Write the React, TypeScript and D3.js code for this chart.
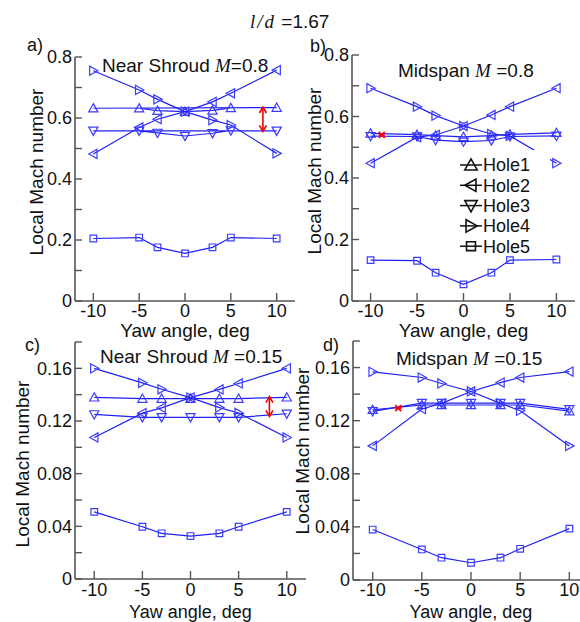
import React from "react";
import * as d3 from "d3";

// ---------- DATA ----------
const yawAngles = [-10, -5, -3, 0, 3, 5, 10];
const holeNames = ["Hole1", "Hole2", "Hole3", "Hole4", "Hole5"];
const xTickValues = [-10, -5, 0, 5, 10];
const topYTicks = [0, 0.1, 0.2, 0.3, 0.4, 0.5, 0.6, 0.7, 0.8];
const topYLabels = ["0", "", "0.2", "", "0.4", "", "0.6", "", "0.8"];
const bottomYTicks = [0, 0.02, 0.04, 0.06, 0.08, 0.1, 0.12, 0.14, 0.16, 0.18];
const bottomYLabels = ["0", "", "0.04", "", "0.08", "", "0.12", "", "0.16", ""];

// a) Near Shroud M=0.8
const aHole1 = [0.632, 0.632, 0.624, 0.621, 0.625, 0.633, 0.634];
const aHole2 = [0.482, 0.569, 0.596, 0.621, 0.653, 0.681, 0.757];
const aHole3 = [0.558, 0.558, 0.551, 0.541, 0.550, 0.559, 0.558];
const aHole4 = [0.755, 0.692, 0.661, 0.621, 0.593, 0.577, 0.484];
const aHole5 = [0.205, 0.208, 0.176, 0.156, 0.176, 0.208, 0.205];
// b) Midspan M=0.8
const bHole1 = [0.545, 0.541, 0.538, 0.534, 0.538, 0.542, 0.547];
const bHole2 = [0.448, 0.533, 0.540, 0.569, 0.605, 0.632, 0.692];
const bHole3 = [0.536, 0.535, 0.523, 0.518, 0.522, 0.535, 0.537];
const bHole4 = [0.692, 0.632, 0.603, 0.569, 0.543, 0.537, 0.448];
const bHole5 = [0.133, 0.131, 0.092, 0.054, 0.092, 0.133, 0.135];
// c) Near Shroud M=0.15
const cHole1 = [0.138, 0.137, 0.137, 0.137, 0.137, 0.137, 0.138];
const cHole2 = [0.1075, 0.126, 0.130, 0.1378, 0.144, 0.1485, 0.160];
const cHole3 = [0.125, 0.1228, 0.1228, 0.1228, 0.1228, 0.1228, 0.1255];
const cHole4 = [0.160, 0.149, 0.1441, 0.1378, 0.1302, 0.1261, 0.1075];
const cHole5 = [0.051, 0.0397, 0.0347, 0.0326, 0.0347, 0.0397, 0.051];
// d) Midspan M=0.15
const dHole1 = [0.1282, 0.1318, 0.1318, 0.1318, 0.1318, 0.1318, 0.1272];
const dHole2 = [0.101, 0.1288, 0.133, 0.142, 0.1487, 0.1525, 0.157];
const dHole3 = [0.1270, 0.1332, 0.1332, 0.1332, 0.1332, 0.1332, 0.1285];
const dHole4 = [0.1568, 0.1525, 0.148, 0.142, 0.133, 0.1275, 0.101];
const dHole5 = [0.038, 0.023, 0.0168, 0.013, 0.0168, 0.0235, 0.0387];

// drawing order of points along a line (index into yawAngles)
const naturalOrder = [0, 1, 2, 3, 4, 5, 6];
const wrapOrder = [6, 0, 1, 2, 3, 4, 5];

// red highlighted points / arrows
const bRedPoint = [-8.8, 0.54];
const dRedPoint = [-7.4, 0.1295];
const aArrow = [8.5, 0.636, 0.556];
const cArrow = [8.2, 0.1385, 0.1235];

// ---------- LAYOUT ----------
type Panel = {
  letter: string;
  title: string;
  mText: string;
  left: number; right: number; top: number; bottom: number;
  yMax: number;
  yTicks: number[]; yLabels: string[];
  series: number[][];
  orders: number[][];
  titleX: number; titleY: number;
  letterX: number; letterY: number;
  yLabX: number; yLabY: number;
  tickLabY: number; xLabY: number; xLabFs: number;
};

const panels: Panel[] = [
  {
    letter: "a)", title: "Near Shroud ", mText: "=0.8",
    left: 75, right: 295, top: 57, bottom: 301, yMax: 0.8,
    yTicks: topYTicks, yLabels: topYLabels,
    series: [aHole1, aHole2, aHole3, aHole4, aHole5],
    orders: [wrapOrder, naturalOrder, wrapOrder, naturalOrder, naturalOrder],
    titleX: 102, titleY: 72, letterX: 27, letterY: 51, yLabX: 43, yLabY: 172,
    tickLabY: 317, xLabY: 337, xLabFs: 19,
  },
  {
    letter: "b)", title: "Midspan ", mText: " =0.8",
    left: 352, right: 575, top: 55, bottom: 301, yMax: 0.8,
    yTicks: topYTicks, yLabels: topYLabels,
    series: [bHole1, bHole2, bHole3, bHole4, bHole5],
    orders: [naturalOrder, naturalOrder, naturalOrder, naturalOrder, naturalOrder],
    titleX: 398, titleY: 77, letterX: 310, letterY: 52, yLabX: 321, yLabY: 171,
    tickLabY: 317, xLabY: 337, xLabFs: 19,
  },
  {
    letter: "c)", title: "Near Shroud ", mText: " =0.15",
    left: 75, right: 306, top: 342, bottom: 579, yMax: 0.18,
    yTicks: bottomYTicks, yLabels: bottomYLabels,
    series: [cHole1, cHole2, cHole3, cHole4, cHole5],
    orders: [naturalOrder, naturalOrder, naturalOrder, naturalOrder, naturalOrder],
    titleX: 100, titleY: 363, letterX: 25, letterY: 351, yLabX: 29, yLabY: 464,
    tickLabY: 596, xLabY: 618, xLabFs: 18,
  },
  {
    letter: "d)", title: "Midspan ", mText: " =0.15",
    left: 353, right: 589, top: 341, bottom: 580, yMax: 0.18,
    yTicks: bottomYTicks, yLabels: bottomYLabels,
    series: [dHole1, dHole2, dHole3, dHole4, dHole5],
    orders: [naturalOrder, naturalOrder, naturalOrder, naturalOrder, naturalOrder],
    titleX: 396, titleY: 365, letterX: 323, letterY: 351, yLabX: 309, yLabY: 451,
    tickLabY: 596, xLabY: 618, xLabFs: 18,
  },
];

const SANS = "'Liberation Sans', Arial, sans-serif";
const SERIF = "'Liberation Serif', 'DejaVu Serif', serif";
const AXIS = "#555";
const BLUE_LINE = "#2020f5";
const BLUE_MARK = "#3c3cff";
const FS = 18;
const FS_BIG = 19;

function markerPath(kind: number, s: number): string {
  const h = s * 0.8;
  switch (kind) {
    case 0: return `M0,${-s}L${s},${h}L${-s},${h}Z`;
    case 1: return `M${-s},0L${h},${-s}L${h},${s}Z`;
    case 2: return `M0,${s}L${s},${-h}L${-s},${-h}Z`;
    case 3: return `M${s},0L${-h},${-s}L${-h},${s}Z`;
    default: {
      const q = s * 0.72;
      return `M${-q},${-q}L${q},${-q}L${q},${q}L${-q},${q}Z`;
    }
  }
}

function PanelView({ p }: { p: Panel }) {
  const x = d3.scaleLinear().domain([-12, 12]).range([p.left, p.right]);
  const y = d3.scaleLinear().domain([0, p.yMax]).range([p.bottom, p.top]);
  return (
    <g>
      {p.series.map((vals, si) => {
        const l = d3
          .line<number>()
          .x((i) => x(yawAngles[i]))
          .y((i) => y(vals[i]));
        return (
          <g key={si}>
            <path d={l(p.orders[si]) || ""} fill="none" stroke={BLUE_LINE} strokeWidth={1.2} />
            {vals.map((v, i) => (
              <path
                key={i}
                d={markerPath(si, 4.6)}
                transform={`translate(${x(yawAngles[i])},${y(v)})`}
                fill="none"
                stroke={BLUE_MARK}
                strokeWidth={1.2}
              />
            ))}
          </g>
        );
      })}
      <line x1={p.left} x2={p.left} y1={p.top} y2={p.bottom} stroke={AXIS} strokeWidth={1.6} />
      <line x1={p.left} x2={p.right} y1={p.bottom} y2={p.bottom} stroke={AXIS} strokeWidth={1.6} />
      {p.yTicks.map((t, i) => (
        <g key={"y" + i}>
          <line x1={p.left} x2={p.left + 7} y1={y(t)} y2={y(t)} stroke={AXIS} strokeWidth={1.4} />
          {p.yLabels[i] && (
            <text x={p.left - 3} y={y(t)} dy="0.36em" textAnchor="end" fontFamily={SANS} fontSize={FS} fill="#111">
              {p.yLabels[i]}
            </text>
          )}
        </g>
      ))}
      {xTickValues.map((t) => (
        <g key={"x" + t}>
          <line x1={x(t)} x2={x(t)} y1={p.bottom} y2={p.bottom - 8} stroke={AXIS} strokeWidth={1.4} />
          <text x={x(t)} y={p.tickLabY} textAnchor="middle" fontFamily={SANS} fontSize={FS} fill="#111">
            {t}
          </text>
        </g>
      ))}
      <text x={(p.left + p.right) / 2} y={p.xLabY} textAnchor="middle" fontFamily={SANS} fontSize={p.xLabFs} fill="#111">
        Yaw angle, deg
      </text>
      <text transform={`translate(${p.yLabX},${p.yLabY}) rotate(-90)`} textAnchor="middle" fontFamily={SANS} fontSize={FS_BIG} fill="#111">
        Local Mach number
      </text>
      <text x={p.titleX} y={p.titleY} fontFamily={SANS} fontSize={FS_BIG} fill="#111">
        {p.title}
        <tspan fontFamily={SERIF} fontStyle="italic">M</tspan>
        {p.mText}
      </text>
      <text x={p.letterX} y={p.letterY} fontFamily={SANS} fontSize={FS} fill="#111">
        {p.letter}
      </text>
    </g>
  );
}

function RedStar({ px, py }: { px: number; py: number }) {
  const s = 3;
  return (
    <g transform={`translate(${px},${py})`} stroke="#ff0000" strokeWidth={1.8}>
      <line x1={-s} x2={s} y1={-s} y2={s} />
      <line x1={-s} x2={s} y1={s} y2={-s} />
      <line x1={-s} x2={s} y1={0} y2={0} />
    </g>
  );
}

function RedArrow({ px, y1, y2 }: { px: number; y1: number; y2: number }) {
  const hw = 3.5, hl = 6;
  return (
    <g stroke="#ee0000" strokeWidth={1.6} fill="none">
      <line x1={px} x2={px} y1={y1} y2={y2} />
      <polyline points={`${px - hw},${y1 + hl} ${px},${y1} ${px + hw},${y1 + hl}`} />
      <polyline points={`${px - hw},${y2 - hl} ${px},${y2} ${px + hw},${y2 - hl}`} />
    </g>
  );
}

export default function App() {
  const pa = panels[0], pb = panels[1], pc = panels[2], pd = panels[3];
  const xa = d3.scaleLinear().domain([-12, 12]).range([pa.left, pa.right]);
  const ya = d3.scaleLinear().domain([0, pa.yMax]).range([pa.bottom, pa.top]);
  const xb = d3.scaleLinear().domain([-12, 12]).range([pb.left, pb.right]);
  const yb = d3.scaleLinear().domain([0, pb.yMax]).range([pb.bottom, pb.top]);
  const xc = d3.scaleLinear().domain([-12, 12]).range([pc.left, pc.right]);
  const yc = d3.scaleLinear().domain([0, pc.yMax]).range([pc.bottom, pc.top]);
  const xd = d3.scaleLinear().domain([-12, 12]).range([pd.left, pd.right]);
  const yd = d3.scaleLinear().domain([0, pd.yMax]).range([pd.bottom, pd.top]);

  const legX = 460, legY0 = 165, legDy = 20.3;
  return (
    <svg width={580} height={622} style={{ position: "absolute", left: 0, top: 0, background: "#fff" }}>
      <rect width={580} height={622} fill="#fff" />
      <text x={250} y={28} fontSize={FS_BIG} fill="#111" fontFamily={SANS}>
        <tspan fontFamily={SERIF} fontStyle="italic">l</tspan>
        <tspan fontFamily={SERIF} fontStyle="italic" dx={2}>/</tspan>
        <tspan fontFamily={SERIF} fontStyle="italic" dx={2}>d</tspan>
        <tspan dx={2}>{" =1.67"}</tspan>
      </text>
      {panels.map((p) => (
        <PanelView key={p.letter} p={p} />
      ))}
      <RedArrow px={xa(aArrow[0])} y1={ya(aArrow[1])} y2={ya(aArrow[2])} />
      <RedArrow px={xc(cArrow[0])} y1={yc(cArrow[1])} y2={yc(cArrow[2])} />
      <RedStar px={xb(bRedPoint[0])} py={yb(bRedPoint[1])} />
      <RedStar px={xd(dRedPoint[0])} py={yd(dRedPoint[1])} />
      <rect x={455} y={150} width={95} height={106} fill="#fff" />
      {holeNames.map((name, i) => {
        const cy = legY0 + i * legDy;
        return (
          <g key={name}>
            <line x1={legX} x2={legX + 22} y1={cy} y2={cy} stroke="#111" strokeWidth={1.5} />
            <path d={markerPath(i, 6.2)} transform={`translate(${legX + 11},${cy})`} fill="none" stroke="#111" strokeWidth={1.6} />
            <text x={legX + 23} y={cy} dy="0.36em" fontFamily={SANS} fontSize={FS} fill="#111">
              {name}
            </text>
          </g>
        );
      })}
    </svg>
  );
}
